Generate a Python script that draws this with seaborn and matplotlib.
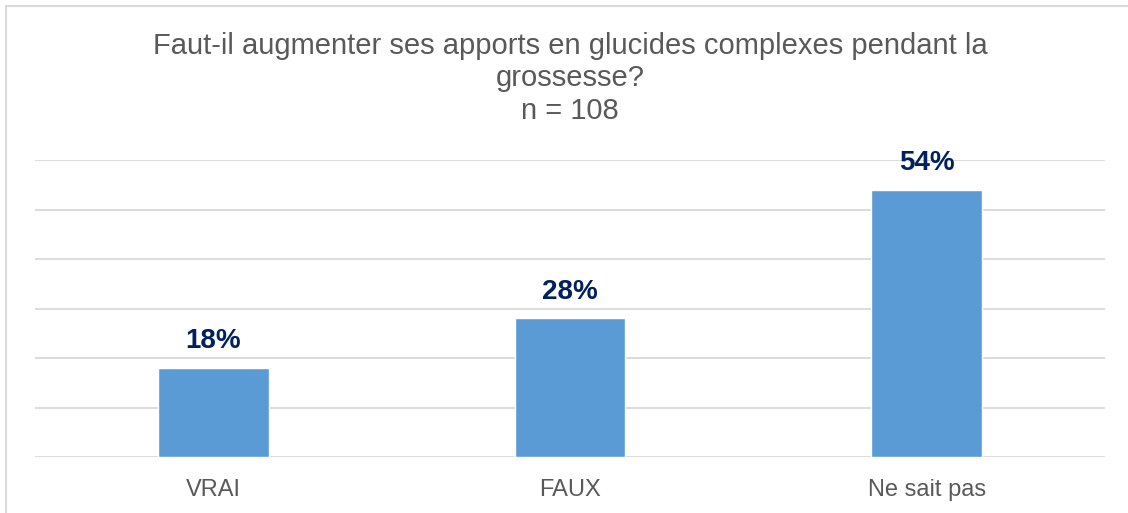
import pandas as pd
import matplotlib
matplotlib.use("Agg")
import matplotlib.pyplot as plt
import seaborn as sns
from matplotlib.lines import Line2D

# Data
categories = ["VRAI", "FAUX", "Ne sait pas"]
percentages = [18, 28, 54]
title_lines = ["Faut-il augmenter ses apports en glucides complexes pendant la",
               "grossesse?", "n = 108"]

df = pd.DataFrame({"reponse": categories, "pct": percentages})

sns.set_style("white")
plt.rcParams["font.family"] = ["Liberation Sans", "DejaVu Sans"]

fig = plt.figure(figsize=(11.28, 5.13), dpi=100)
ax = fig.add_axes([35 / 1128, 1 - 457 / 513, (1105 - 35) / 1128, (457 - 160) / 513])

sns.barplot(data=df, x="reponse", y="pct", color="#5B9BD5", width=0.31,
            saturation=1, ax=ax)

ax.set_ylim(0, 60)
ax.set_yticks(range(0, 61, 10))
ax.yaxis.grid(True, color="#D9D9D9", linewidth=1.3)
ax.set_axisbelow(True)
ax.tick_params(axis="y", left=False, labelleft=False)
ax.tick_params(axis="x", bottom=False, labelsize=17, labelcolor="#595959", pad=12)
ax.set_xlabel("")
ax.set_ylabel("")
for s in ax.spines.values():
    s.set_visible(False)

# Value labels
for i, v in enumerate(percentages):
    ax.annotate(f"{v}%", (i, v), xytext=(0, 10), textcoords="offset points",
                ha="center", va="bottom", fontsize=20, fontweight="bold",
                color="#002060")

# Title
fig.text(570 / 1128, 1 - 32 / 513, "\n".join(title_lines), ha="center", va="top",
         fontsize=21, color="#595959", linespacing=1.2)

# Chart frame (left and top edges visible)
fig.add_artist(Line2D([6 / 1128, 6 / 1128], [0, 1 - 6 / 513], color="#D9D9D9",
                      linewidth=1.5, transform=fig.transFigure))
fig.add_artist(Line2D([6 / 1128, 1], [1 - 6 / 513, 1 - 6 / 513], color="#D9D9D9",
                      linewidth=1.5, transform=fig.transFigure))

fig.savefig("out.png", dpi=100)
